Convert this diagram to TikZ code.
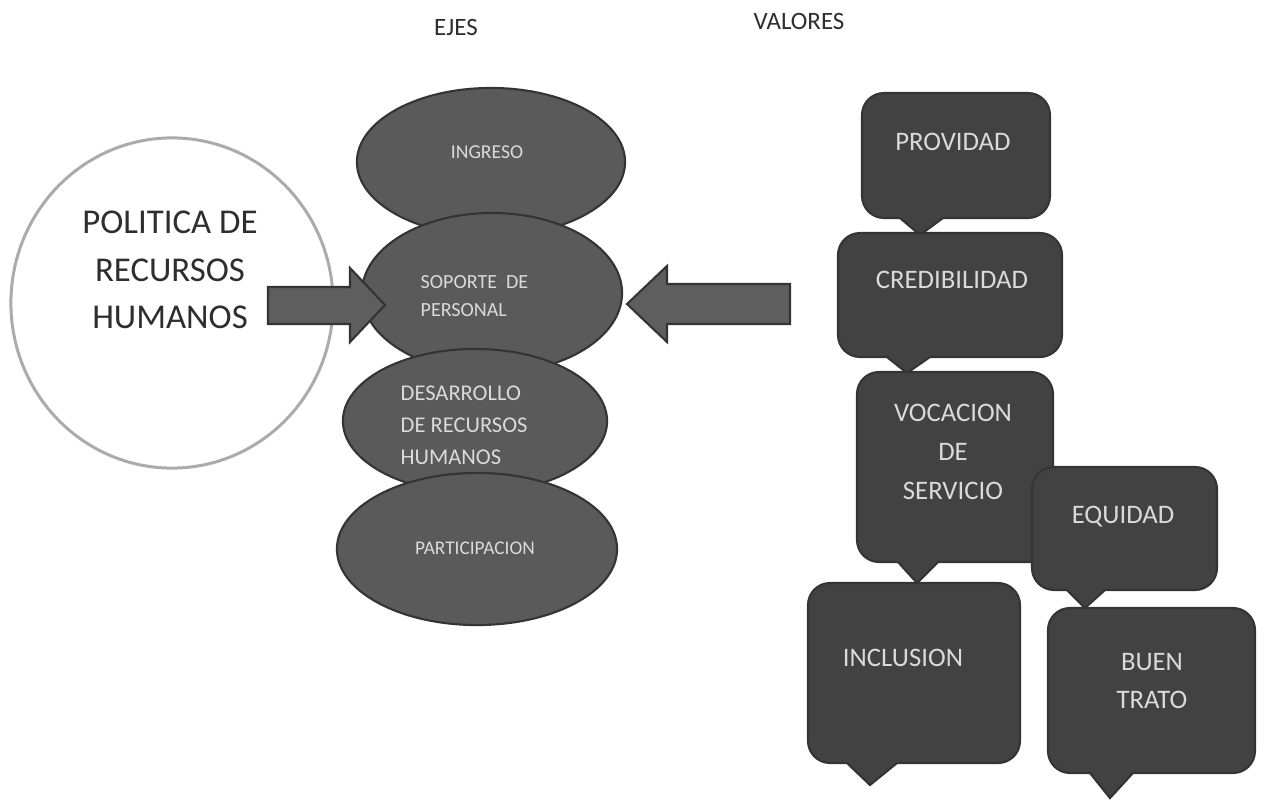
\documentclass[tikz,border=0pt]{standalone}
\usepackage{fontspec}
\setmainfont{Carlito}
\usetikzlibrary{shapes.geometric}

\definecolor{arogris}{HTML}{ABABAB}
\definecolor{ejegris}{HTML}{5A5A5A}
\definecolor{valorgris}{HTML}{424242}
\definecolor{flechagris}{HTML}{5E5E5E}
\definecolor{bordegris}{HTML}{343434}
\definecolor{letraclara}{HTML}{DADADA}
\definecolor{tinta}{HTML}{2E2E2E}

\tikzset{
  aro/.style={ellipse, draw=arogris, line width=0.85pt, fill=white, inner sep=0pt},
  eje/.style={ellipse, draw=bordegris, line width=0.6pt, fill=ejegris, inner sep=0pt},
  valor/.style={draw=bordegris, line width=0.6pt, fill=valorgris},
  flecha/.style={draw=bordegris, line width=0.6pt, fill=flechagris},
  titulo/.style={inner sep=0pt, text=tinta, font=\fontsize{7.1}{8}\selectfont},
  grande/.style={inner sep=0pt, text=tinta, align=center, font=\fontsize{9.9}{13.5}\selectfont},
  ejetxt/.style={inner sep=0pt, text=letraclara},
  valtxt/.style={inner sep=0pt, text=letraclara, align=center, font=\fontsize{7.6}{11}\selectfont}
}

% callout: left, top, right, bottom, pointer left, tip x, tip y, pointer right
\newcommand{\globo}[8]{%
  \draw[valor, rounded corners=0.22cm] (#5,#2) -- (#3,#2) -- (#3,#4) [sharp corners] -- (#8,#4) -- (#6,#7) -- (#5,#4) [rounded corners=0.22cm] -- (#1,#4) -- (#1,#2) -- (#5,#2);}

\begin{document}
\begin{tikzpicture}[x=0.01cm, y=-0.01cm]
    \path[use as bounding box, fill=white] (0,0) rectangle (1265,802);

    % titles
    \node[titulo] (ejes) at (456,27) {EJES};
    \node[titulo] (valores) at (799,21) {VALORES};

    % politica
    \node[aro, minimum width=3.22cm, minimum height=3.30cm] (politica) at (172,303) {};
    \node[grande] (t-politica) at (170,270) {POLITICA DE\\RECURSOS\\HUMANOS};

    % ejes
    \node[eje, minimum width=2.68cm, minimum height=1.48cm] (ingreso) at (491,162) {};
    \node[eje, minimum width=2.60cm, minimum height=1.60cm] (soporte) at (492,293) {};
    \node[eje, minimum width=2.64cm, minimum height=1.44cm] (desarrollo) at (475,421) {};
    \node[eje, minimum width=2.80cm, minimum height=1.52cm] (participacion) at (477,549) {};
    \node[ejetxt, font=\fontsize{5.6}{7}\selectfont] (t-ingreso) at (487,152) {INGRESO};
    \node[ejetxt, anchor=west, align=left, font=\fontsize{5.7}{8}\selectfont] (t-soporte) at (420,296) {SOPORTE\ \ DE\\PERSONAL};
    \node[ejetxt, anchor=west, align=left, font=\fontsize{6.4}{9.1}\selectfont] (t-desarrollo) at (400,425) {DESARROLLO\\DE RECURSOS\\HUMANOS};
    \node[ejetxt, font=\fontsize{5.5}{7}\selectfont] (t-participacion) at (475,548) {PARTICIPACION};

    % arrows
    \draw[flecha] (268,287) -- (350,287) -- (350,268) -- (385,305) -- (350,342) -- (350,324) -- (268,324) -- cycle;
    \draw[flecha] (790,284) -- (667,284) -- (667,266) -- (627,304) -- (667,342) -- (667,324) -- (790,324) -- cycle;

    % valores
    \globo{862}{93}{1050}{218}{900}{920}{235}{943}
    \globo{838}{233}{1062}{357}{887}{907}{373}{930}
    \globo{857}{372}{1053}{562}{898}{917}{583}{938}
    \globo{1032}{467}{1217}{590}{1067}{1085}{608}{1105}
    \globo{808}{583}{1020}{763}{847}{870}{785}{897}
    \globo{1048}{608}{1255}{773}{1090}{1110}{798}{1133}
    \node[valtxt] (providad) at (953,142) {PROVIDAD};
    \node[valtxt] (credibilidad) at (952,280) {CREDIBILIDAD};
    \node[valtxt] (vocacion) at (953,452) {VOCACION\\DE\\SERVICIO};
    \node[valtxt] (equidad) at (1123,517) {EQUIDAD};
    \node[valtxt] (inclusion) at (903,658) {INCLUSION};
    \node[valtxt] (buentrato) at (1152,681) {BUEN\\TRATO};
\end{tikzpicture}
\end{document}
